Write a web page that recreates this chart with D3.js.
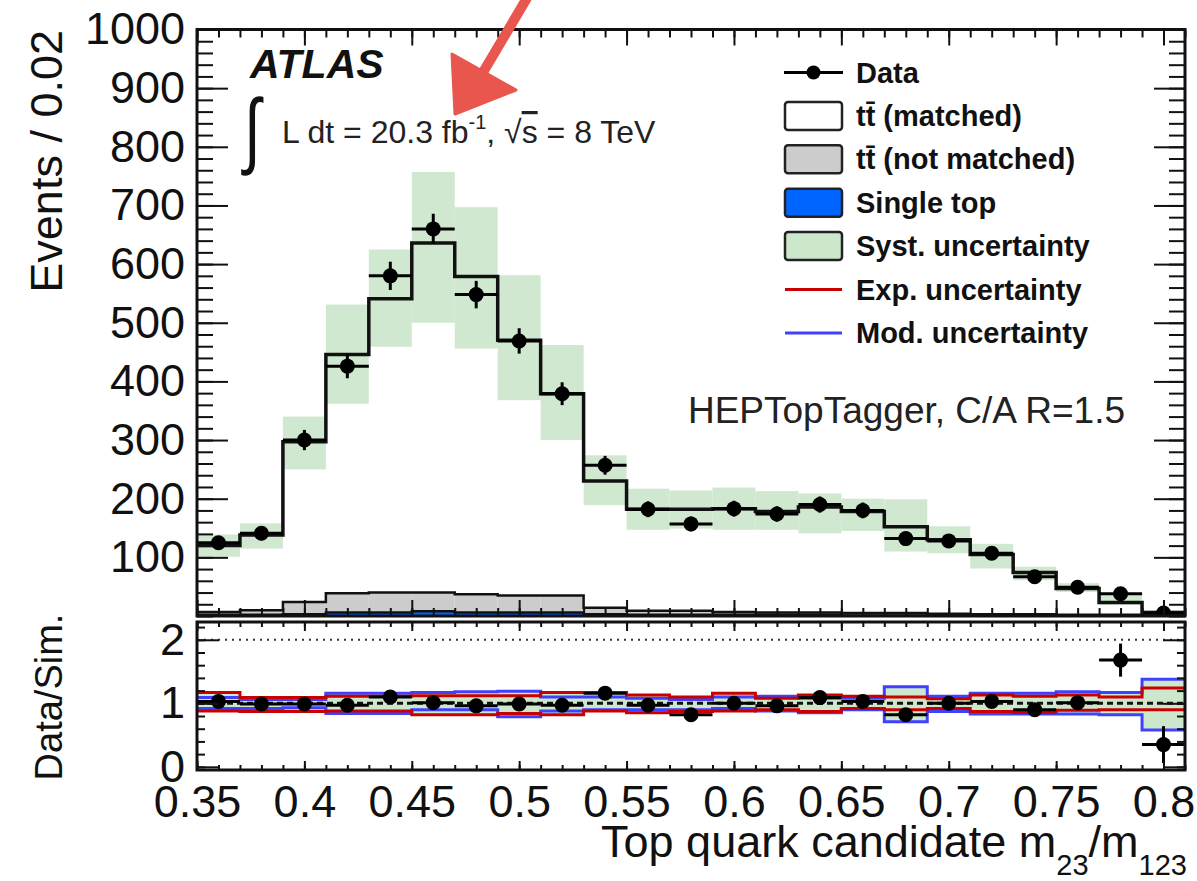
<!DOCTYPE html>
<html>
<head>
<meta charset="utf-8">
<script src="https://cdn.jsdelivr.net/npm/d3@7"></script>
<style>
  body { margin: 0; background: #fff; }
  text { font-family: "Liberation Sans", Arial, sans-serif; }
</style>
</head>
<body>
<div id="container"></div>
<script>
/* DATA */
const binEdges = [0.35, 0.37, 0.39, 0.41, 0.43, 0.45, 0.47, 0.49, 0.51, 0.53, 0.55, 0.57,
  0.59, 0.61, 0.63, 0.65, 0.67, 0.69, 0.71, 0.73, 0.75, 0.77, 0.79, 0.81];
const binCenters = [0.36, 0.38, 0.40, 0.42, 0.44, 0.46, 0.48, 0.50, 0.52, 0.54, 0.56, 0.58,
  0.60, 0.62, 0.64, 0.66, 0.68, 0.70, 0.72, 0.74, 0.76, 0.78, 0.80];

const dataEvents = [125, 141, 300, 426, 580, 660, 548, 469, 379, 257, 182, 157, 183, 174, 190, 180, 132, 128, 107, 67, 49, 38, 5];
const singleTop = [2, 2, 3, 6, 6, 8, 6, 6, 6, 3, 2, 2, 2, 2, 2, 1, 1, 1, 1, 1, 1, 0.5, 0.3];
const ttNotMatched = [5, 8, 21, 33, 34, 32, 31, 29, 29, 11, 7, 7, 5, 4, 4, 4, 4, 3, 2, 2, 1, 1.5, 0.7];
const ttMatched = [113, 128, 273, 407, 501, 596, 542, 435, 344, 216, 173, 173, 176, 172, 180, 173, 147, 126, 102, 71, 45, 21, 5];
const systLo = [101, 115, 250, 362, 459, 500, 456, 368, 300, 189, 147, 149, 147, 147, 141, 145, 110, 107, 81, 61, 41, 19, 0];
const systHi = [139, 158, 340, 531, 625, 757, 697, 581, 462, 274, 217, 214, 219, 213, 209, 200, 199, 153, 123, 84, 56, 36, 10];

const ratio = [1.03, 0.99, 0.99, 0.97, 1.10, 1.01, 0.96, 0.99, 0.97, 1.16, 0.97, 0.82, 1.00, 0.96, 1.09, 1.03, 0.82, 1.00, 1.03, 0.90, 1.01, 1.68, 0.35];
const ratioErr = [0.06, 0.06, 0.04, 0.04, 0.04, 0.04, 0.04, 0.04, 0.04, 0.05, 0.06, 0.06, 0.06, 0.06, 0.06, 0.06, 0.07, 0.07, 0.08, 0.10, 0.12, 0.26, 0.29];
const expLo = [0.88, 0.87, 0.87, 0.88, 0.88, 0.82, 0.82, 0.84, 0.82, 0.88, 0.85, 0.87, 0.88, 0.90, 0.87, 0.92, 0.90, 0.92, 0.87, 0.86, 0.89, 0.90, 0.90];
const expHi = [1.17, 1.09, 1.09, 1.11, 1.11, 1.12, 1.12, 1.12, 1.17, 1.17, 1.13, 1.10, 1.16, 1.08, 1.13, 1.11, 1.10, 1.07, 1.13, 1.11, 1.13, 1.10, 1.24];
const modLo = [0.92, 0.92, 0.93, 0.84, 0.84, 0.90, 0.90, 0.79, 0.88, 0.90, 0.90, 0.90, 0.92, 0.88, 0.85, 0.90, 0.71, 0.87, 0.83, 0.83, 0.83, 0.82, 0.58];
const modHi = [1.09, 1.06, 1.06, 1.16, 1.16, 1.17, 1.18, 1.19, 1.10, 1.10, 1.08, 1.06, 1.10, 1.11, 1.08, 1.08, 1.26, 1.11, 1.16, 1.16, 1.18, 1.17, 1.38];
const ratioSystLo = [0.88, 0.87, 0.87, 0.84, 0.84, 0.82, 0.82, 0.79, 0.82, 0.88, 0.85, 0.87, 0.88, 0.88, 0.85, 0.90, 0.71, 0.87, 0.83, 0.83, 0.83, 0.82, 0.58];
const ratioSystHi = [1.17, 1.09, 1.09, 1.16, 1.16, 1.17, 1.18, 1.19, 1.17, 1.17, 1.13, 1.10, 1.16, 1.11, 1.13, 1.11, 1.26, 1.11, 1.16, 1.16, 1.18, 1.17, 1.38];

const mainYTicks = [100, 200, 300, 400, 500, 600, 700, 800, 900, 1000];
const xTickLabels = [0.35, 0.4, 0.45, 0.5, 0.55, 0.6, 0.65, 0.7, 0.75, 0.8];
const ratioYTicks = [0, 1, 2];

const legendItems = [
  { label: "Data", kind: "data" },
  { label: "tt\u0304 (matched)", kind: "box", fill: "#ffffff" },
  { label: "tt\u0304 (not matched)", kind: "box", fill: "#cccccc" },
  { label: "Single top", kind: "box", fill: "#0064ff" },
  { label: "Syst. uncertainty", kind: "box", fill: "#cde7cd" },
  { label: "Exp. uncertainty", kind: "line", color: "#c80000" },
  { label: "Mod. uncertainty", kind: "line", color: "#4040ff" }
];

/* SETUP */
const width = 1197, height = 881;
const left = 197, right = 1185, mainTop = 29.5, mainBottom = 616, ratioTop = 622, ratioBottom = 770;

const svg = d3.select("#container").append("svg")
  .attr("width", width).attr("height", height)
  .style("display", "block");

const x = d3.scaleLinear([0.35, 0.81], [left, right]);
const y = d3.scaleLinear([0, 1000], [mainBottom, mainTop]);
const yr = d3.scaleLinear([-0.05, 2.28], [ratioBottom, ratioTop]);

const defs = svg.append("defs");
defs.append("clipPath").attr("id", "clipMain").append("rect")
  .attr("x", left).attr("y", mainTop).attr("width", right - left).attr("height", mainBottom - mainTop);
defs.append("clipPath").attr("id", "clipRatio").append("rect")
  .attr("x", left).attr("y", ratioTop).attr("width", right - left).attr("height", ratioBottom - ratioTop);

function stepPath(vals, ys) {
  let p = "";
  vals.forEach((v, i) => {
    const x0 = x(binEdges[i]), x1 = x(binEdges[i + 1]), yy = ys(v);
    p += (i === 0 ? "M" : "L") + x0 + "," + yy + "L" + x1 + "," + yy;
  });
  return p;
}

/* MAIN PANEL */
const main = svg.append("g").attr("clip-path", "url(#clipMain)");

const rows = binCenters.map((c, i) => ({ i, single: singleTop[i], notm: ttNotMatched[i], matched: ttMatched[i] }));
const stacked = d3.stack().keys(["single", "notm", "matched"])(rows);
const fills = { single: "#0064ff", notm: "#cccccc", matched: "#ffffff" };

stacked.forEach(layer => {
  main.append("g").selectAll("rect")
    .data(layer)
    .join("rect")
    .attr("x", (d, i) => x(binEdges[i]))
    .attr("width", (d, i) => x(binEdges[i + 1]) - x(binEdges[i]))
    .attr("y", d => y(d[1]))
    .attr("height", d => y(d[0]) - y(d[1]))
    .attr("fill", fills[layer.key]);
});

// syst band
main.append("g").selectAll("rect")
  .data(binCenters)
  .join("rect")
  .attr("x", (d, i) => x(binEdges[i]))
  .attr("width", (d, i) => x(binEdges[i + 1]) - x(binEdges[i]))
  .attr("y", (d, i) => y(systHi[i]))
  .attr("height", (d, i) => y(systLo[i]) - y(systHi[i]))
  .attr("fill", "#cde7cd")
  .attr("opacity", 0.95);

// outlines
stacked.forEach(layer => {
  main.append("path")
    .attr("d", stepPath(layer.map(d => d[1]), y))
    .attr("fill", "none")
    .attr("stroke", "#111")
    .attr("stroke-width", layer.key === "matched" ? 3.5 : 2.5);
});

// data
const dataG = main.append("g");
binCenters.forEach((c, i) => {
  const v = dataEvents[i], e = Math.sqrt(v);
  dataG.append("line").attr("x1", x(binEdges[i])).attr("x2", x(binEdges[i + 1]))
    .attr("y1", y(v)).attr("y2", y(v)).attr("stroke", "#000").attr("stroke-width", 3);
  dataG.append("line").attr("x1", x(c)).attr("x2", x(c))
    .attr("y1", y(v - e)).attr("y2", y(v + e)).attr("stroke", "#000").attr("stroke-width", 3);
  dataG.append("circle").attr("cx", x(c)).attr("cy", y(v)).attr("r", 7.5).attr("fill", "#000");
});

/* RATIO PANEL */
const rat = svg.append("g").attr("clip-path", "url(#clipRatio)");

rat.append("g").selectAll("rect")
  .data(binCenters)
  .join("rect")
  .attr("x", (d, i) => x(binEdges[i]))
  .attr("width", (d, i) => x(binEdges[i + 1]) - x(binEdges[i]))
  .attr("y", (d, i) => yr(ratioSystHi[i]))
  .attr("height", (d, i) => yr(ratioSystLo[i]) - yr(ratioSystHi[i]))
  .attr("fill", "#cde7cd");

[[modLo, "#4040ff"], [modHi, "#4040ff"], [expLo, "#c80000"], [expHi, "#c80000"]].forEach(([vals, col]) => {
  rat.append("path").attr("d", stepPath(vals, yr))
    .attr("fill", "none").attr("stroke", col).attr("stroke-width", 3);
});

rat.append("line").attr("x1", left).attr("x2", right)
  .attr("y1", yr(2)).attr("y2", yr(2))
  .attr("stroke", "#333").attr("stroke-width", 2).attr("stroke-dasharray", "2,5");
rat.append("line").attr("x1", left).attr("x2", right)
  .attr("y1", yr(1)).attr("y2", yr(1))
  .attr("stroke", "#111").attr("stroke-width", 3).attr("stroke-dasharray", "6,4");

const rdG = rat.append("g");
binCenters.forEach((c, i) => {
  const v = ratio[i], e = ratioErr[i];
  rdG.append("line").attr("x1", x(binEdges[i])).attr("x2", x(binEdges[i + 1]))
    .attr("y1", yr(v)).attr("y2", yr(v)).attr("stroke", "#000").attr("stroke-width", 3);
  rdG.append("line").attr("x1", x(c)).attr("x2", x(c))
    .attr("y1", yr(v - e)).attr("y2", yr(v + e)).attr("stroke", "#000").attr("stroke-width", 3);
  rdG.append("circle").attr("cx", x(c)).attr("cy", yr(v)).attr("r", 7.5).attr("fill", "#000");
});

/* AXES */
function styleAxis(g, size) {
  g.select(".domain").remove();
  g.selectAll(".tick line").attr("stroke", "#111").attr("stroke-width", 2);
  g.attr("font-size", size).attr("font-family", "Liberation Sans, Arial, sans-serif");
  g.selectAll(".tick text").attr("fill", "#111");
}
const minorX = d3.range(35, 82).map(d => d / 100);

// main x ticks (top + bottom)
svg.append("g").attr("transform", `translate(0,${mainBottom})`)
  .call(d3.axisBottom(x).tickValues(xTickLabels).tickSize(-16).tickFormat("")).call(g => styleAxis(g, 10));
svg.append("g").attr("transform", `translate(0,${mainBottom})`)
  .call(d3.axisBottom(x).tickValues(minorX).tickSize(-8).tickFormat("")).call(g => styleAxis(g, 10));
svg.append("g").attr("transform", `translate(0,${mainTop})`)
  .call(d3.axisTop(x).tickValues(xTickLabels).tickSize(-16).tickFormat("")).call(g => styleAxis(g, 10));
svg.append("g").attr("transform", `translate(0,${mainTop})`)
  .call(d3.axisTop(x).tickValues(minorX).tickSize(-8).tickFormat("")).call(g => styleAxis(g, 10));

// main y ticks
svg.append("g").attr("transform", `translate(${left},0)`)
  .call(d3.axisLeft(y).tickValues(mainYTicks).tickSize(-31).tickPadding(12).tickFormat(d3.format("d")))
  .call(g => styleAxis(g, 45));
svg.append("g").attr("transform", `translate(${left},0)`)
  .call(d3.axisLeft(y).tickValues(d3.range(0, 1001, 20)).tickSize(-16).tickFormat(""))
  .call(g => styleAxis(g, 10));
svg.append("g").attr("transform", `translate(${right},0)`)
  .call(d3.axisRight(y).tickValues(mainYTicks).tickSize(-31).tickFormat(""))
  .call(g => styleAxis(g, 10));
svg.append("g").attr("transform", `translate(${right},0)`)
  .call(d3.axisRight(y).tickValues(d3.range(0, 1001, 20)).tickSize(-16).tickFormat(""))
  .call(g => styleAxis(g, 10));

// ratio x ticks
svg.append("g").attr("transform", `translate(0,${ratioBottom})`)
  .call(d3.axisBottom(x).tickValues(xTickLabels).tickSize(-9).tickPadding(15).tickFormat(d => String(+d.toFixed(2))))
  .call(g => styleAxis(g, 45));
svg.append("g").attr("transform", `translate(0,${ratioBottom})`)
  .call(d3.axisBottom(x).tickValues(minorX).tickSize(-5).tickFormat("")).call(g => styleAxis(g, 10));
svg.append("g").attr("transform", `translate(0,${ratioTop})`)
  .call(d3.axisTop(x).tickValues(xTickLabels).tickSize(-9).tickFormat("")).call(g => styleAxis(g, 10));
svg.append("g").attr("transform", `translate(0,${ratioTop})`)
  .call(d3.axisTop(x).tickValues(minorX).tickSize(-5).tickFormat("")).call(g => styleAxis(g, 10));

// ratio y ticks
const minorR = d3.range(0, 12).map(d => d * 0.2);
svg.append("g").attr("transform", `translate(${left},0)`)
  .call(d3.axisLeft(yr).tickValues(ratioYTicks).tickSize(-22).tickPadding(12).tickFormat(d3.format("d")))
  .call(g => styleAxis(g, 45));
svg.append("g").attr("transform", `translate(${left},0)`)
  .call(d3.axisLeft(yr).tickValues(minorR).tickSize(-8).tickFormat("")).call(g => styleAxis(g, 10));
svg.append("g").attr("transform", `translate(${right},0)`)
  .call(d3.axisRight(yr).tickValues(ratioYTicks).tickSize(-22).tickFormat("")).call(g => styleAxis(g, 10));
svg.append("g").attr("transform", `translate(${right},0)`)
  .call(d3.axisRight(yr).tickValues(minorR).tickSize(-8).tickFormat("")).call(g => styleAxis(g, 10));

// frames
svg.append("rect").attr("x", left).attr("y", mainTop).attr("width", right - left).attr("height", mainBottom - mainTop)
  .attr("fill", "none").attr("stroke", "#111").attr("stroke-width", 3);
svg.append("rect").attr("x", left).attr("y", ratioTop).attr("width", right - left).attr("height", ratioBottom - ratioTop)
  .attr("fill", "none").attr("stroke", "#111").attr("stroke-width", 3);

/* TITLES */
svg.append("text")
  .attr("transform", "translate(62,30) rotate(-90)")
  .attr("text-anchor", "end").attr("font-size", 45).attr("fill", "#111")
  .text("Events / 0.02");
svg.append("text")
  .attr("transform", "translate(62,697) rotate(-90)")
  .attr("text-anchor", "middle").attr("font-size", 38).attr("fill", "#111")
  .text("Data/Sim.");

const xt = svg.append("text").attr("x", 1187).attr("y", 857)
  .attr("text-anchor", "end").attr("font-size", 45).attr("fill", "#111");
xt.append("tspan").text("Top quark candidate m");
xt.append("tspan").attr("font-size", 29).attr("dy", 18).text("23");
xt.append("tspan").attr("dy", -18).text("/m");
xt.append("tspan").attr("font-size", 29).attr("dy", 18).text("123");

/* LABELS */
svg.append("text").attr("x", 250).attr("y", 78)
  .attr("font-size", 41).attr("font-weight", "bold").attr("font-style", "italic").attr("fill", "#111")
  .text("ATLAS");
svg.append("text").attr("transform", "translate(244,158) scale(1,1.4)")
  .attr("font-size", 60).attr("fill", "#111").text("\u222B");
const lumi = svg.append("text").attr("x", 282).attr("y", 143)
  .attr("font-size", 32).attr("fill", "#222");
lumi.append("tspan").text("L dt = 20.3 fb");
lumi.append("tspan").attr("font-size", 20).attr("dy", -14).text("-1");
lumi.append("tspan").attr("dy", 14).text(", \u221A");
lumi.append("tspan").style("text-decoration", "overline").text("s");
lumi.append("tspan").text(" = 8 TeV");

svg.append("text").attr("x", 1125).attr("y", 423)
  .attr("text-anchor", "end").attr("font-size", 37).attr("fill", "#222")
  .text("HEPTopTagger, C/A R=1.5");

/* LEGEND */
const leg = svg.append("g");
legendItems.forEach((d, i) => {
  const cy = 72.5 + i * 43.4;
  if (d.kind === "data") {
    leg.append("line").attr("x1", 784).attr("x2", 843).attr("y1", cy).attr("y2", cy)
      .attr("stroke", "#000").attr("stroke-width", 3);
    leg.append("circle").attr("cx", 813.5).attr("cy", cy).attr("r", 7).attr("fill", "#000");
  } else if (d.kind === "box") {
    leg.append("rect").attr("x", 785).attr("y", cy - 14).attr("width", 57).attr("height", 28)
      .attr("rx", 3).attr("fill", d.fill).attr("stroke", "#222").attr("stroke-width", 2.5);
  } else {
    leg.append("line").attr("x1", 785).attr("x2", 842).attr("y1", cy).attr("y2", cy)
      .attr("stroke", d.color).attr("stroke-width", 3);
  }
  leg.append("text").attr("x", 856).attr("y", cy + 10)
    .attr("font-size", 29).attr("font-weight", "bold").attr("fill", "#111")
    .text(d.label);
});

/* ANNOTATION ARROW */
svg.append("path")
  .attr("d", "M527,-2 L482,74")
  .attr("stroke", "#e8564e").attr("stroke-width", 10).attr("stroke-linecap", "round").attr("fill", "none");
svg.append("path")
  .attr("d", "M452,54 L516,90 L455,114 Z")
  .attr("fill", "#e8564e").attr("stroke", "#e8564e").attr("stroke-width", 3).attr("stroke-linejoin", "round");
</script>
</body>
</html>
